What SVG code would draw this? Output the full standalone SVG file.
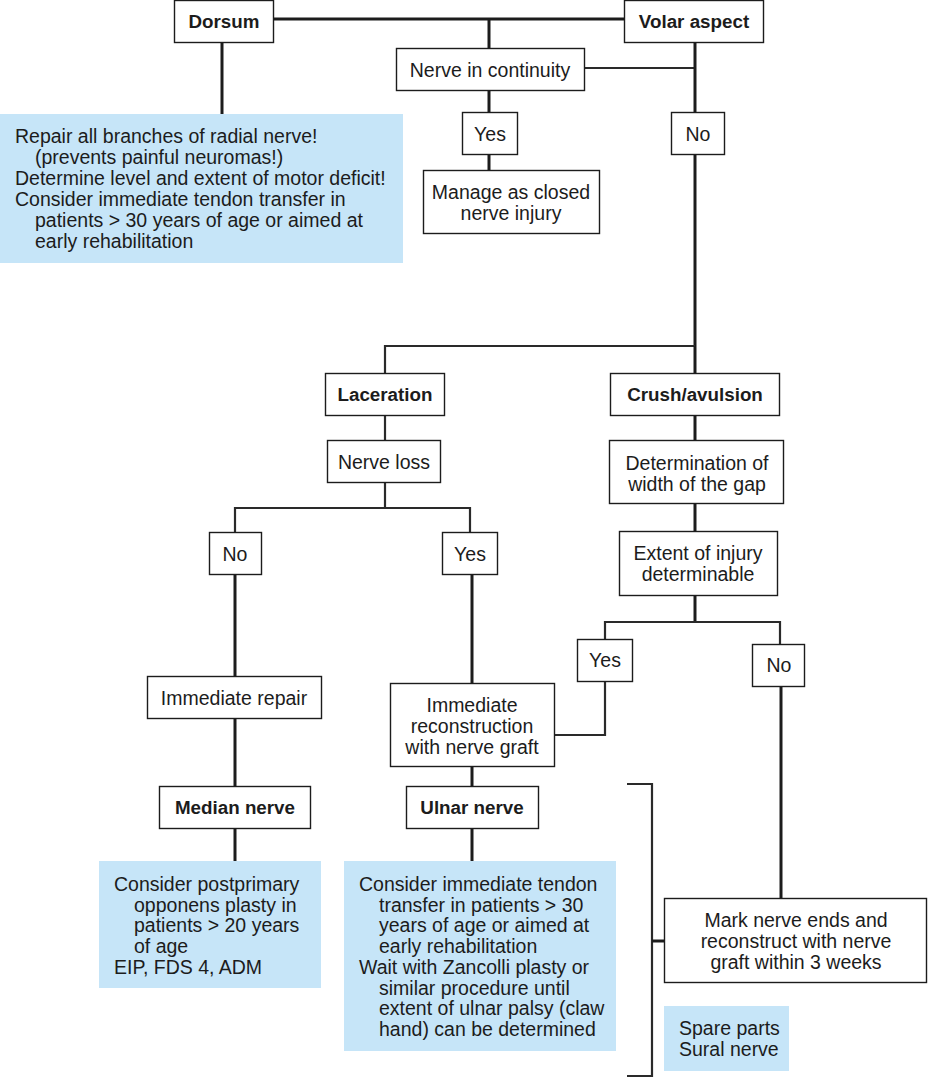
<svg xmlns="http://www.w3.org/2000/svg" width="928" height="1078" viewBox="0 0 928 1078">
<style>
text{font-family:"Liberation Sans",Arial,sans-serif;font-size:19.5px;fill:#1c1c1c}
.b{font-weight:bold;font-size:18.8px}
.c{text-anchor:middle}
.box{fill:#fff;stroke:#1c1c1c;stroke-width:1.4}
.note{fill:#c6e5f8;stroke:none}
.h{fill:none;stroke:#1c1c1c;stroke-width:3}
.t{fill:none;stroke:#2a2a2a;stroke-width:2.2}
</style>
<rect width="928" height="1078" fill="#fff"/>
<g id="connectors">
<path class="h" d="M273 19H624"/>
<path class="h" d="M222 42V114"/>
<path class="h" d="M489 19V48"/>
<path class="t" d="M585 68H695"/>
<path class="h" d="M695 42V112"/>
<path class="h" d="M489 90V112M489 154V170"/>
<path class="h" d="M695 154V346"/>
<path class="t" d="M695 346H385V373"/>
<path class="h" d="M695 346V373"/>
<path class="t" d="M385 415V440"/>
<path class="h" d="M695 415V440M695 503V531"/>
<path class="t" d="M385 482V508M235 532V508H470V532"/>
<path class="h" d="M235 574V676M235 719V786M235 829V861"/>
<path class="h" d="M472 574V683M472 766V786M472 829V861"/>
<path class="h" d="M695 595V622"/>
<path class="t" d="M605 639V622H780V644"/>
<path class="t" d="M605 681V735H555"/>
<path class="h" d="M781 686V898"/>
<path class="t" d="M627 784H652V1076H627"/>
<path class="h" d="M652 941H664"/>
</g>
<g id="dorsum"><rect class="box" x="174.5" y="0.5" width="99" height="42"/><text class="b c" x="224" y="28">Dorsum</text></g>
<g id="volar"><rect class="box" x="624.5" y="0.5" width="139" height="42"/><text class="b c" x="694" y="28">Volar aspect</text></g>
<g id="dorsum-note"><rect class="note" x="0" y="114" width="403" height="149"/>
<text x="15" y="143">Repair all branches of radial nerve!</text>
<text x="35" y="164">(prevents painful neuromas!)</text>
<text x="15" y="185">Determine level and extent of motor deficit!</text>
<text x="15" y="206">Consider immediate tendon transfer in</text>
<text x="35" y="227">patients &gt; 30 years of age or aimed at</text>
<text x="35" y="248">early rehabilitation</text></g>
<g id="continuity"><rect class="box" x="396.5" y="48.5" width="188" height="42"/><text class="c" x="490" y="77">Nerve in continuity</text></g>
<g id="yes1"><rect class="box" x="462.5" y="112.5" width="55" height="42"/><text class="c" x="490" y="141">Yes</text></g>
<g id="no1"><rect class="box" x="671.5" y="112.5" width="53" height="42"/><text class="c" x="698" y="141">No</text></g>
<g id="closed"><rect class="box" x="423.5" y="170.5" width="176" height="63"/><text class="c" x="511" y="199">Manage as closed</text><text class="c" x="511" y="220">nerve injury</text></g>
<g id="laceration"><rect class="box" x="325.5" y="373.5" width="119" height="42"/><text class="b c" x="385" y="401">Laceration</text></g>
<g id="crush"><rect class="box" x="610.5" y="373.5" width="169" height="42"/><text class="b c" x="695" y="401">Crush/avulsion</text></g>
<g id="nerveloss"><rect class="box" x="327.5" y="440.5" width="113" height="42"/><text class="c" x="384" y="469">Nerve loss</text></g>
<g id="gap"><rect class="box" x="609.5" y="440.5" width="174" height="63"/><text class="c" x="697" y="470">Determination of</text><text class="c" x="697" y="491">width of the gap</text></g>
<g id="no2"><rect class="box" x="209.5" y="532.5" width="52" height="42"/><text class="c" x="235" y="561">No</text></g>
<g id="yes2"><rect class="box" x="442.5" y="532.5" width="55" height="42"/><text class="c" x="470" y="561">Yes</text></g>
<g id="extent"><rect class="box" x="619.5" y="531.5" width="158" height="64"/><text class="c" x="698" y="560">Extent of injury</text><text class="c" x="698" y="581">determinable</text></g>
<g id="yes3"><rect class="box" x="577.5" y="639.5" width="55" height="42"/><text class="c" x="605" y="667">Yes</text></g>
<g id="no3"><rect class="box" x="752.5" y="644.5" width="52" height="42"/><text class="c" x="779" y="672">No</text></g>
<g id="repair"><rect class="box" x="147.5" y="676.5" width="174" height="42"/><text class="c" x="234" y="705">Immediate repair</text></g>
<g id="reconstruction"><rect class="box" x="390.5" y="683.5" width="164" height="83"/><text class="c" x="472" y="712">Immediate</text><text class="c" x="472" y="733">reconstruction</text><text class="c" x="472" y="754">with nerve graft</text></g>
<g id="median"><rect class="box" x="159.5" y="786.5" width="151" height="42"/><text class="b c" x="235" y="814">Median nerve</text></g>
<g id="ulnar"><rect class="box" x="406.5" y="786.5" width="132" height="42"/><text class="b c" x="472" y="814">Ulnar nerve</text></g>
<g id="median-note"><rect class="note" x="99" y="861" width="222" height="127"/>
<text x="114" y="891">Consider postprimary</text>
<text x="134" y="912">opponens plasty in</text>
<text x="134" y="932">patients &gt; 20 years</text>
<text x="134" y="953">of age</text>
<text x="114" y="974">EIP, FDS 4, ADM</text></g>
<g id="ulnar-note"><rect class="note" x="344" y="861" width="272" height="190"/>
<text x="359" y="891">Consider immediate tendon</text>
<text x="379" y="912">transfer in patients &gt; 30</text>
<text x="379" y="932">years of age or aimed at</text>
<text x="379" y="953">early rehabilitation</text>
<text x="359" y="974">Wait with Zancolli plasty or</text>
<text x="379" y="995">similar procedure until</text>
<text x="379" y="1015">extent of ulnar palsy (claw</text>
<text x="379" y="1036">hand) can be determined</text></g>
<g id="mark"><rect class="box" x="664.5" y="898.5" width="262" height="84"/><text class="c" x="796" y="927">Mark nerve ends and</text><text class="c" x="796" y="948">reconstruct with nerve</text><text class="c" x="796" y="969">graft within 3 weeks</text></g>
<g id="spare"><rect class="note" x="664" y="1006" width="125" height="65"/><text x="679" y="1035">Spare parts</text><text x="679" y="1056">Sural nerve</text></g>
</svg>
